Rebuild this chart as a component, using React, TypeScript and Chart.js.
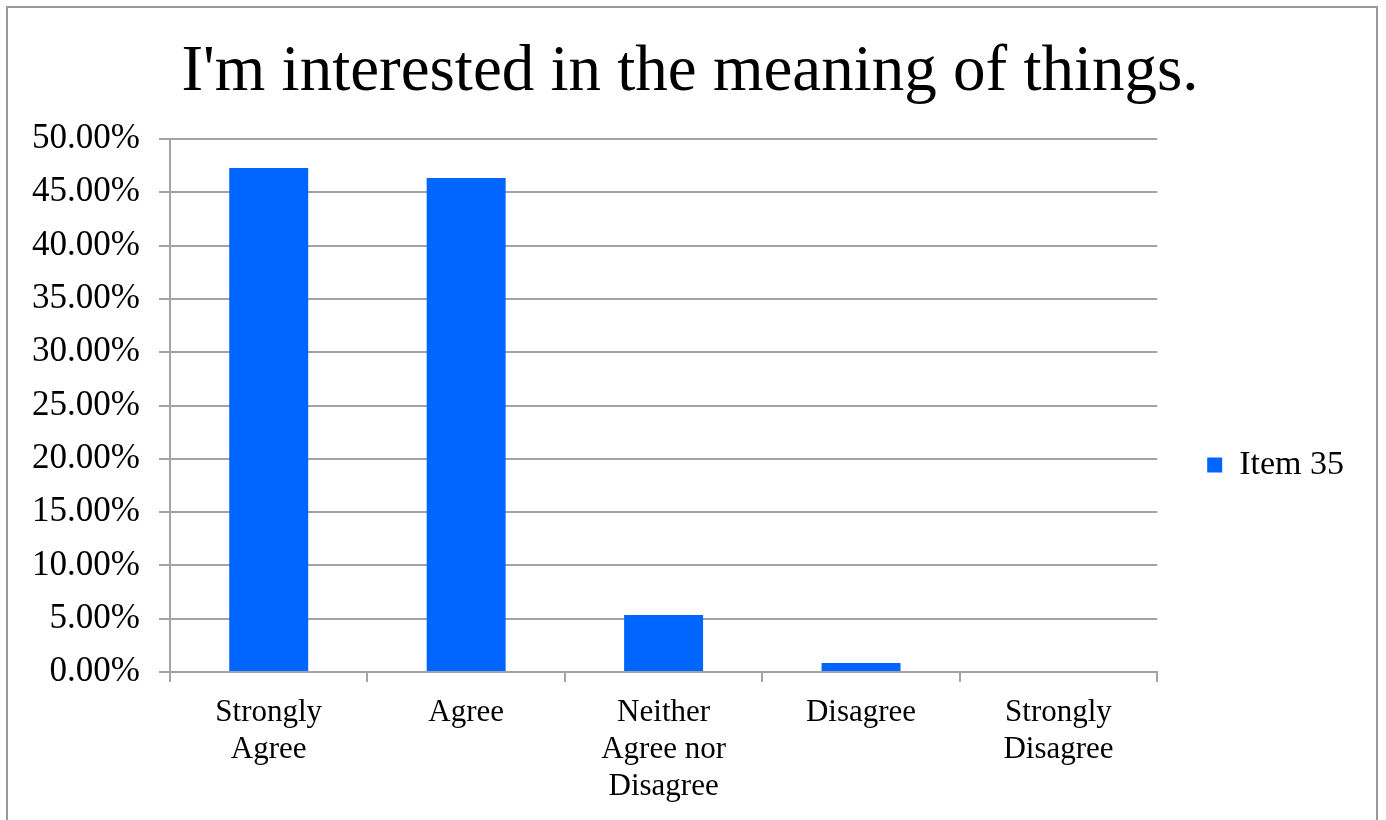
import React, { useEffect, useRef } from 'react';
import { Chart, registerables } from 'chart.js';

Chart.register(...registerables);

const chartTitle = "I'm interested in the meaning of things.";
const seriesName = 'Item 35';
const categories: (string | string[])[] = [
  ['Strongly', 'Agree'],
  'Agree',
  ['Neither', 'Agree nor', 'Disagree'],
  'Disagree',
  ['Strongly', 'Disagree'],
];
const item35Values = [0.4728, 0.4634, 0.0535, 0.0084, 0];
const yMin = 0;
const yMax = 0.5;
const yStep = 0.05;

const SERIF = "'Liberation Serif', 'Times New Roman', serif";
const GRID = '#a3a3a3';

const framePlugin = {
  id: 'frame',
  beforeDraw(chart: any) {
    const ctx = chart.ctx;
    ctx.save();
    ctx.fillStyle = '#ffffff';
    ctx.fillRect(0, 0, chart.width, chart.height);
    ctx.strokeStyle = '#9a9a9a';
    ctx.lineWidth = 2;
    ctx.strokeRect(7, 7, 1370, 900);
    ctx.restore();
  },
};

export default function App() {
  const ref = useRef<HTMLCanvasElement | null>(null);

  useEffect(() => {
    if (!ref.current) return;
    const chart = new Chart(ref.current, {
      type: 'bar',
      data: {
        labels: categories,
        datasets: [
          {
            label: seriesName,
            data: item35Values,
            backgroundColor: '#0066ff',
            borderWidth: 0,
            categoryPercentage: 1,
            barPercentage: 0.4,
          },
        ],
      },
      options: {
        responsive: false,
        animation: false,
        devicePixelRatio: 1,
        layout: { padding: { top: 20, bottom: -90, left: 26, right: 32 } },
        plugins: {
          title: {
            display: true,
            text: chartTitle,
            color: '#000000',
            font: { family: SERIF, size: 65, weight: 'normal', lineHeight: 1.2 },
            padding: { top: 14, bottom: 27 },
          },
          legend: {
            display: true,
            position: 'right',
            labels: {
              boxWidth: 15,
              boxHeight: 15,
              padding: 50,
              color: '#000000',
              font: { family: SERIF, size: 34 },
            },
          },
          tooltip: { enabled: false },
        },
        scales: {
          x: {
            afterFit(scale: any) {
              scale.height = 238;
            },
            grid: {
              display: true,
              offset: true,
              drawOnChartArea: false,
              drawTicks: true,
              tickLength: 10,
              color: GRID,
              lineWidth: 2,
            },
            border: { display: true, color: GRID, width: 2 },
            ticks: {
              color: '#000000',
              font: { family: SERIF, size: 31, lineHeight: 1.2 },
              padding: 12,
              maxRotation: 0,
              minRotation: 0,
              autoSkip: false,
            },
          },
          y: {
            min: yMin,
            max: yMax,
            afterFit(scale: any) {
              scale.width = 144;
            },
            grid: {
              color: GRID,
              lineWidth: 2,
              tickLength: 11,
              drawTicks: true,
            },
            border: { display: true, color: GRID, width: 2 },
            ticks: {
              stepSize: yStep,
              color: '#000000',
              font: { family: SERIF, size: 35 },
              padding: 19,
              callback: (v: any) => (Number(v) * 100).toFixed(2) + '%',
            },
          },
        },
      },
      plugins: [framePlugin],
    });
    return () => chart.destroy();
  }, []);

  return (
    <div style={{ position: 'fixed', left: 0, top: 0, width: 1386, height: 820 }}>
      <canvas ref={ref} width={1386} height={820} style={{ display: 'block' }} />
    </div>
  );
}
